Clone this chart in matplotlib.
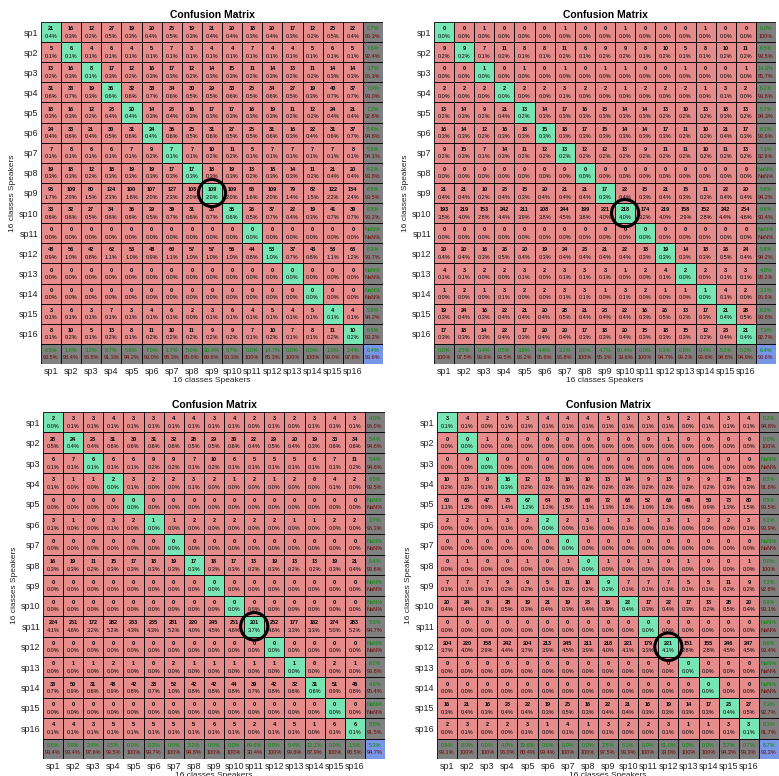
import numpy as np
import matplotlib
matplotlib.use("Agg")
import matplotlib.pyplot as plt
from matplotlib.patches import Rectangle, Ellipse

plt.rcParams['font.family'] = ['Liberation Sans', 'DejaVu Sans']

classes = ["sp%d" % i for i in range(1, 17)]

cm_top_left = [
    [21, 16, 12, 27, 19, 20, 25, 19, 21, 20, 18, 20, 17, 12, 25, 22],
    [5, 6, 4, 6, 4, 5, 7, 3, 4, 4, 7, 4, 4, 5, 6, 5],
    [13, 16, 8, 17, 12, 16, 17, 12, 14, 15, 11, 14, 13, 11, 14, 14],
    [31, 38, 19, 35, 32, 38, 34, 30, 29, 33, 25, 34, 27, 19, 40, 37],
    [18, 16, 12, 23, 20, 14, 23, 16, 17, 17, 16, 19, 11, 12, 24, 21],
    [24, 33, 21, 30, 31, 24, 35, 25, 31, 27, 25, 31, 16, 22, 31, 37],
    [7, 8, 6, 6, 7, 9, 7, 7, 10, 11, 5, 7, 7, 7, 7, 8],
    [19, 18, 12, 18, 19, 19, 17, 17, 18, 19, 13, 18, 14, 11, 21, 20],
    [95, 109, 80, 124, 100, 107, 127, 108, 109, 109, 88, 109, 79, 82, 122, 134],
    [33, 32, 27, 34, 35, 29, 39, 31, 36, 35, 26, 37, 22, 19, 41, 39],
    [0] * 16,
    [48, 56, 42, 62, 53, 48, 60, 57, 57, 56, 44, 53, 37, 43, 58, 68],
    [0] * 16,
    [0] * 16,
    [3, 6, 3, 7, 3, 4, 6, 2, 3, 6, 4, 5, 4, 5, 4, 4],
    [8, 10, 5, 13, 8, 11, 10, 11, 9, 9, 7, 10, 7, 8, 11, 10],
]

cm_top_right = [
    [0, 0, 1, 0, 0, 0, 1, 0, 0, 1, 0, 0, 0, 1, 0, 0],
    [9, 9, 7, 11, 8, 8, 11, 6, 9, 9, 8, 10, 5, 8, 10, 11],
    [0, 0, 1, 0, 1, 0, 1, 0, 1, 1, 0, 0, 1, 0, 0, 1],
    [2, 2, 2, 2, 2, 2, 3, 2, 2, 1, 2, 2, 2, 1, 3, 2],
    [13, 14, 9, 21, 13, 14, 17, 16, 15, 14, 14, 13, 10, 13, 18, 13],
    [16, 14, 12, 16, 18, 15, 18, 17, 15, 14, 14, 17, 11, 10, 21, 17],
    [9, 15, 7, 14, 11, 12, 13, 12, 12, 13, 9, 11, 11, 10, 11, 13],
    [0] * 16,
    [21, 21, 10, 23, 15, 20, 21, 21, 17, 22, 15, 21, 15, 11, 22, 20],
    [193, 219, 153, 242, 211, 208, 244, 199, 221, 218, 174, 219, 158, 152, 242, 254],
    [0] * 16,
    [20, 20, 16, 26, 20, 19, 24, 23, 21, 22, 18, 19, 14, 18, 26, 24],
    [4, 3, 2, 2, 3, 2, 3, 3, 3, 1, 2, 4, 2, 2, 3, 3],
    [1, 2, 1, 3, 2, 2, 3, 3, 1, 3, 2, 1, 1, 1, 4, 2],
    [19, 24, 16, 22, 21, 20, 28, 21, 23, 22, 16, 26, 13, 17, 21, 28],
    [17, 18, 14, 22, 17, 20, 20, 17, 18, 20, 15, 18, 15, 12, 23, 21],
]

cm_bottom_left = [
    [2, 3, 3, 4, 3, 3, 4, 4, 3, 4, 2, 3, 2, 3, 4, 3],
    [28, 24, 23, 31, 30, 31, 32, 28, 29, 30, 22, 29, 20, 19, 33, 34],
    [6, 7, 6, 6, 6, 9, 9, 7, 10, 6, 5, 5, 5, 6, 7, 11],
    [3, 1, 1, 2, 3, 2, 2, 3, 2, 1, 2, 1, 2, 0, 4, 2],
    [0] * 16,
    [3, 1, 0, 3, 2, 1, 1, 2, 2, 2, 2, 2, 1, 1, 2, 2],
    [0] * 16,
    [16, 19, 11, 15, 17, 18, 19, 17, 18, 17, 13, 19, 13, 13, 19, 21],
    [0] * 16,
    [0] * 16,
    [224, 251, 172, 282, 233, 235, 281, 220, 245, 251, 201, 252, 177, 182, 274, 283],
    [0] * 16,
    [0, 1, 1, 2, 1, 0, 2, 1, 1, 1, 1, 1, 1, 0, 2, 1],
    [38, 50, 31, 48, 42, 38, 52, 42, 42, 44, 39, 42, 32, 31, 51, 46],
    [0] * 16,
    [4, 4, 3, 5, 5, 5, 5, 5, 6, 5, 2, 4, 5, 1, 6, 6],
]

cm_bottom_right = [
    [3, 4, 2, 5, 3, 4, 4, 4, 5, 3, 3, 5, 2, 4, 3, 4],
    [0, 0, 1, 0, 0, 0, 0, 0, 0, 0, 0, 1, 0, 0, 0, 0],
    [0] * 16,
    [10, 13, 8, 16, 12, 13, 16, 10, 13, 14, 9, 13, 9, 9, 15, 15],
    [60, 66, 47, 75, 67, 64, 80, 60, 72, 68, 52, 68, 46, 50, 73, 80],
    [2, 2, 1, 3, 2, 2, 2, 3, 1, 3, 1, 3, 1, 2, 2, 3],
    [0] * 16,
    [0, 1, 0, 0, 1, 0, 1, 0, 1, 0, 1, 0, 1, 0, 0, 1],
    [7, 7, 7, 9, 9, 5, 11, 10, 9, 7, 7, 7, 5, 5, 11, 9],
    [20, 24, 9, 28, 19, 21, 19, 23, 16, 22, 17, 22, 17, 13, 28, 20],
    [0] * 16,
    [204, 220, 158, 242, 204, 213, 245, 211, 218, 221, 179, 221, 151, 155, 246, 247],
    [0] * 16,
    [0] * 16,
    [16, 21, 16, 23, 22, 19, 25, 16, 22, 21, 16, 19, 14, 17, 23, 27],
    [2, 3, 2, 2, 3, 1, 4, 1, 3, 2, 2, 3, 1, 1, 3, 3],
]

circled = [8, 9, 10, 11]  # index of circled diagonal cell per panel

W, H = 779, 776
fig = plt.figure(figsize=(W / 100, H / 100), dpi=100)

GREEN = (120 / 255, 230 / 255, 180 / 255)
RED = (230 / 255, 140 / 255, 140 / 255)
GRAY = (0.5, 0.5, 0.5)
BLUE = (120 / 255, 150 / 255, 230 / 255)
TXT_G = (0.0, 0.55, 0.0)
TXT_R = (0.45, 0.0, 0.0)


def fmt(v):
    if v is None:
        return "NaN%"
    if abs(v - 100) < 1e-9:
        return "100%"
    return "%.1f%%" % v


def draw(px_box, cm, circ):
    x0, y0, x1, y1 = px_box
    ax = fig.add_axes([x0 / W, 1 - y1 / H, (x1 - x0) / W, (y1 - y0) / H])
    m = np.array(cm, dtype=float)
    n = m.shape[0]
    total = m.sum()
    fs = 4.0
    for i in range(n):
        for j in range(n):
            c = GREEN if i == j else RED
            ax.add_patch(Rectangle((j, i), 1, 1, facecolor=c, edgecolor='black', lw=0.6))
            ax.text(j + 0.5, i + 0.33, "%d" % m[i, j], ha='center', va='center',
                    fontsize=fs, fontweight='bold')
            ax.text(j + 0.5, i + 0.7, fmt(m[i, j] / total * 100), ha='center',
                    va='center', fontsize=fs)
    # right summary column (per output class)
    for i in range(n):
        s = m[i].sum()
        ax.add_patch(Rectangle((n, i), 1, 1, facecolor=GRAY, edgecolor='black', lw=0.6))
        g = m[i, i] / s * 100 if s > 0 else None
        r = 100 - g if g is not None else None
        ax.text(n + 0.5, i + 0.33, fmt(g), ha='center', va='center', fontsize=fs, color=TXT_G)
        ax.text(n + 0.5, i + 0.7, fmt(r), ha='center', va='center', fontsize=fs, color=TXT_R)
    # bottom summary row (per target class)
    for j in range(n):
        s = m[:, j].sum()
        ax.add_patch(Rectangle((j, n), 1, 1, facecolor=GRAY, edgecolor='black', lw=0.6))
        g = m[j, j] / s * 100 if s > 0 else None
        r = 100 - g if g is not None else None
        ax.text(j + 0.5, n + 0.33, fmt(g), ha='center', va='center', fontsize=fs, color=TXT_G)
        ax.text(j + 0.5, n + 0.7, fmt(r), ha='center', va='center', fontsize=fs, color=TXT_R)
    ax.add_patch(Rectangle((n, n), 1, 1, facecolor=BLUE, edgecolor='black', lw=0.6))
    acc = np.trace(m) / total * 100
    ax.text(n + 0.5, n + 0.33, fmt(acc), ha='center', va='center', fontsize=fs, color=TXT_G)
    ax.text(n + 0.5, n + 0.7, fmt(100 - acc), ha='center', va='center', fontsize=fs, color=TXT_R)
    # circle
    ax.add_patch(Ellipse((circ + 0.5, circ + 0.5), 1.35, 1.35, facecolor='none',
                         edgecolor='black', lw=2.2, zorder=5))
    ax.set_xlim(0, n + 1)
    ax.set_ylim(n + 1, 0)
    ax.set_xticks(np.arange(n) + 0.5)
    ax.set_xticklabels(classes, fontsize=6.5, color='#222222')
    ax.set_yticks(np.arange(n) + 0.5)
    ax.set_yticklabels(classes, fontsize=6.5, color='#222222')
    ax.tick_params(length=0, pad=2)
    for sp in ax.spines.values():
        sp.set_visible(False)
    ax.set_title("Confusion Matrix", fontsize=7.5, fontweight='bold', pad=3)
    ax.set_xlabel("16 classes Speakers", fontsize=6, labelpad=1, color='#222222')
    ax.set_ylabel("16 classes Speakers", fontsize=6, labelpad=2, color='#222222')
    return ax


draw((41, 22, 383, 364), cm_top_left, circled[0])
draw((434, 22, 776, 364), cm_top_right, circled[1])
draw((43, 412, 385, 759), cm_bottom_left, circled[2])
draw((437, 412, 779, 759), cm_bottom_right, circled[3])

fig.savefig("out.png", dpi=100)
